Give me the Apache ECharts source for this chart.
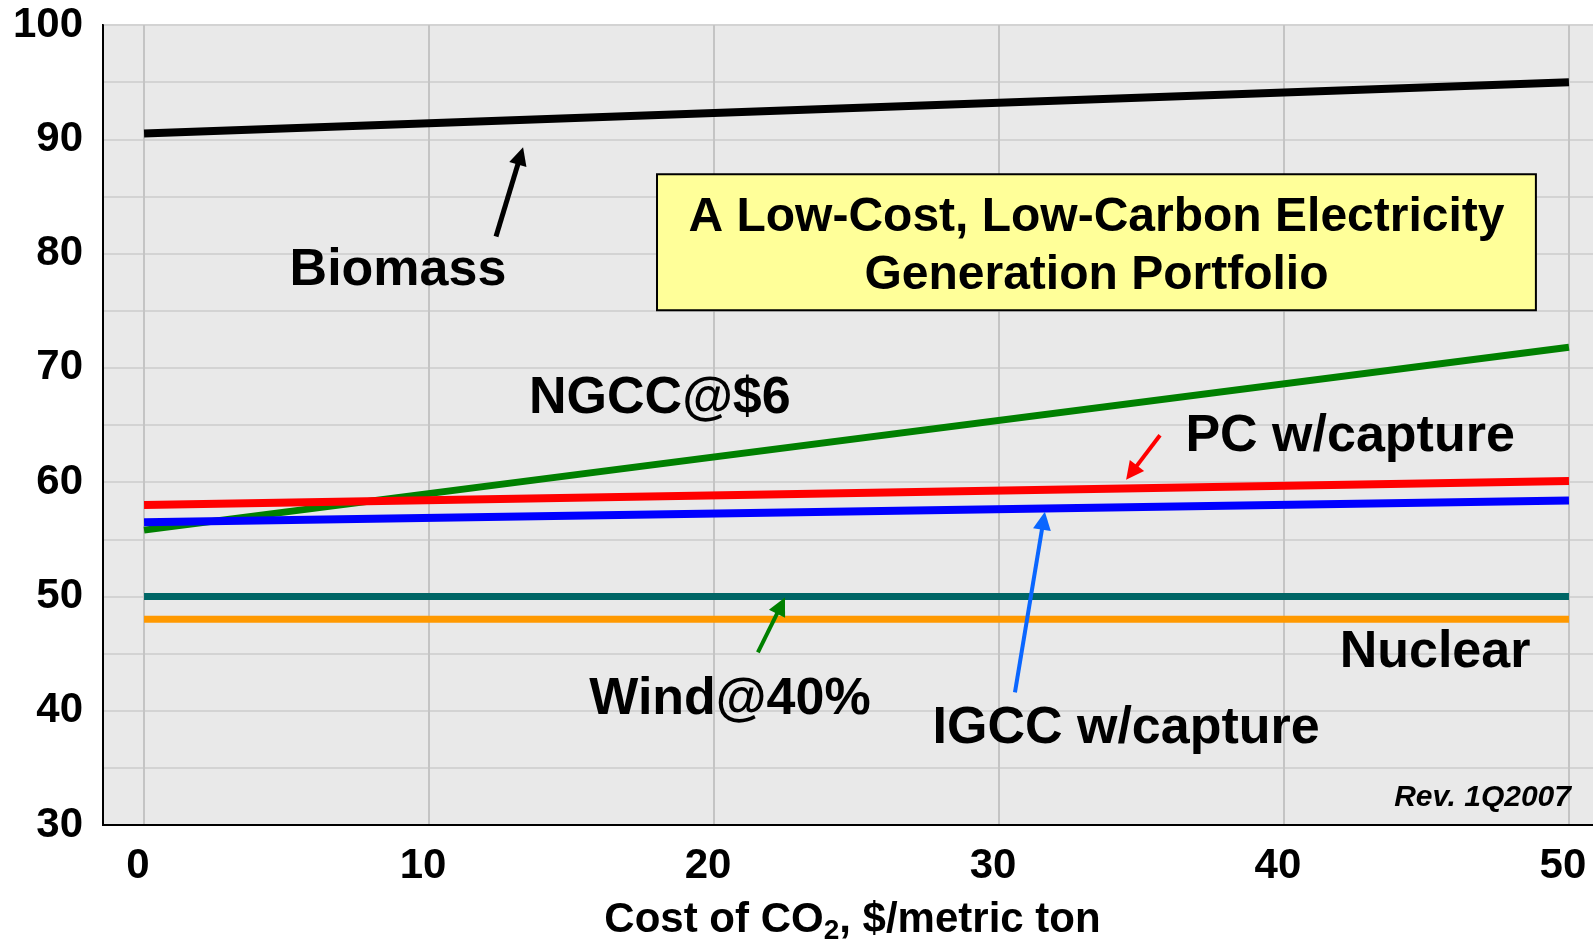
<!DOCTYPE html>
<html>
<head>
<meta charset="utf-8">
<title>A Low-Cost, Low-Carbon Electricity Generation Portfolio</title>
<script src="https://cdn.jsdelivr.net/npm/echarts@6/dist/echarts.min.js"></script>
<style>
  html, body { margin: 0; padding: 0; background: #ffffff; }
  #chart { width: 1593px; height: 942px; }
</style>
</head>
<body>
<div id="chart"></div>
<script>
// Cost of CO2 ($/metric ton) at the two ends of each line
const costs = [0, 50];

// Generation cost for each technology at those CO2 prices
const biomass = [90.5, 95.0];
const ngcc = [55.8, 71.8];
const pcCapture = [58.0, 60.1];
const igccCapture = [56.5, 58.4];
const wind = [50.0, 50.0];
const nuclear = [48.0, 48.0];

// Axis ticks
const xTicks = [0, 10, 20, 30, 40, 50];
const yTicks = [30, 40, 50, 60, 70, 80, 90, 100];

const FONT = 'Arial, "Liberation Sans", Helvetica, sans-serif';

const chart = echarts.init(document.getElementById('chart'), null, { renderer: 'canvas' });

function pairs(vals) {
  return costs.map((c, i) => [c, vals[i]]);
}

function lineSeries(name, vals, color, width) {
  return {
    name: name,
    type: 'line',
    data: pairs(vals),
    symbol: 'none',
    silent: true,
    z: 3,
    lineStyle: { color: color, width: width, cap: 'butt' }
  };
}

chart.setOption({
  animation: false,
  backgroundColor: '#ffffff',
  grid: {
    left: 103, top: 25, width: 1507, bottom: 117,
    outerBoundsMode: 'none',
    containLabel: false,
    show: true,
    backgroundColor: '#e9e9e9',
    borderColor: '#000000',
    borderWidth: 2
  },
  xAxis: {
    type: 'value',
    min: -1.44,
    max: 51.44,
    axisLine: { show: true, onZero: false, lineStyle: { color: '#000', width: 2 } },
    axisTick: { show: false, customValues: xTicks },
    axisLabel: {
      customValues: xTicks,
      margin: 20,
      padding: [0, 12, 0, 0],
      color: '#000',
      fontFamily: FONT,
      fontWeight: 'bold',
      fontSize: 42
    },
    splitLine: { show: true, lineStyle: { color: '#c4c4c4', width: 2 } },
    name: 'Cost of CO{sub|2}, $/metric ton',
    nameLocation: 'middle',
    nameGap: 70,
    nameTextStyle: {
      color: '#000',
      fontFamily: FONT,
      fontWeight: 'bold',
      fontSize: 42,
      lineHeight: 50,
      padding: [0, 8, 0, 0],
      rich: {
        sub: {
          color: '#000',
          fontFamily: FONT,
          fontWeight: 'bold',
          fontSize: 28,
          lineHeight: 28,
          verticalAlign: 'bottom'
        }
      }
    }
  },
  yAxis: {
    type: 'value',
    min: 30,
    max: 100,
    interval: 5,
    axisLine: { show: true, onZero: false, lineStyle: { color: '#000', width: 2 } },
    axisTick: { show: false },
    axisLabel: {
      margin: 20,
      color: '#000',
      fontFamily: FONT,
      fontWeight: 'bold',
      fontSize: 42,
      formatter: v => (yTicks.indexOf(v) >= 0 ? String(v) : '')
    },
    splitLine: { show: true, lineStyle: { color: '#d3d3d3', width: 2 } }
  },
  series: [
    lineSeries('Biomass', biomass, '#000000', 8),
    lineSeries('NGCC@$6', ngcc, '#008000', 7),
    lineSeries('PC w/capture', pcCapture, '#ff0000', 8),
    lineSeries('IGCC w/capture', igccCapture, '#0000ff', 8),
    lineSeries('Wind@40%', wind, '#006666', 7),
    lineSeries('Nuclear', nuclear, '#ff9900', 7)
  ]
});

// Annotations placed in data coordinates (cost, $/MWh)
const labels = [
  { text: 'Biomass', at: [8.91, 78.5] },
  { text: 'NGCC@$6', at: [18.1, 67.3] },
  { text: 'PC w/capture', at: [42.32, 64.0] },
  { text: 'Wind@40%', at: [20.56, 40.95] },
  { text: 'IGCC w/capture', at: [34.46, 38.4] },
  { text: 'Nuclear', at: [45.3, 45.1] }
];

const arrows = [
  { from: [12.35, 81.5], to: [13.3, 89.3], color: '#000000', width: 5 },
  { from: [35.65, 64.1], to: [34.46, 60.2], color: '#ff0000', width: 4 },
  { from: [21.54, 45.1], to: [22.49, 49.9], color: '#008000', width: 4 },
  { from: [30.56, 41.6], to: [31.61, 57.4], color: '#0a66ff', width: 4 }
];

const titleBox = { topLeft: [18.0, 86.94], bottomRight: [48.84, 75.04] };
const titleLines = ['A Low-Cost, Low-Carbon Electricity', 'Generation Portfolio'];
const revision = { text: 'Rev. 1Q2007', at: [50.07, 32.4] };

function px(p) {
  return chart.convertToPixel({ gridIndex: 0 }, p);
}

function arrowElements(a) {
  const t = px(a.from);
  const h = px(a.to);
  const dx = h[0] - t[0], dy = h[1] - t[1];
  const len = Math.sqrt(dx * dx + dy * dy);
  const ux = dx / len, uy = dy / len;
  const headLen = 18, headHalf = 9;
  const bx = h[0] - ux * headLen, by = h[1] - uy * headLen;
  return [
    {
      type: 'line', silent: true, z: 10,
      shape: { x1: t[0], y1: t[1], x2: bx + ux * 2, y2: by + uy * 2 },
      style: { stroke: a.color, lineWidth: a.width, lineCap: 'butt' }
    },
    {
      type: 'polygon', silent: true, z: 10,
      shape: { points: [h, [bx - uy * headHalf, by + ux * headHalf], [bx + uy * headHalf, by - ux * headHalf]] },
      style: { fill: a.color }
    }
  ];
}

const graphics = [];

labels.forEach(l => {
  const p = px(l.at);
  graphics.push({
    type: 'text', silent: true, z: 10,
    x: p[0], y: p[1],
    style: {
      text: l.text, fill: '#000',
      font: 'bold 52px ' + FONT,
      align: 'center', verticalAlign: 'middle'
    }
  });
});

arrows.forEach(a => { arrowElements(a).forEach(e => graphics.push(e)); });

const tl = px(titleBox.topLeft);
const br = px(titleBox.bottomRight);
graphics.push({
  type: 'rect', silent: true, z: 10,
  shape: { x: tl[0], y: tl[1], width: br[0] - tl[0], height: br[1] - tl[1] },
  style: { fill: '#ffff99', stroke: '#000', lineWidth: 2 }
});
const boxCx = (tl[0] + br[0]) / 2;
const boxCy = (tl[1] + br[1]) / 2;
titleLines.forEach((line, i) => {
  graphics.push({
    type: 'text', silent: true, z: 11,
    x: boxCx, y: boxCy + (i - 0.5) * 58 + 5,
    style: {
      text: line, fill: '#000',
      font: 'bold 48px ' + FONT,
      align: 'center', verticalAlign: 'middle'
    }
  });
});

const rv = px(revision.at);
graphics.push({
  type: 'text', silent: true, z: 10,
  x: rv[0], y: rv[1],
  style: {
    text: revision.text, fill: '#000',
    font: 'italic bold 30px ' + FONT,
    align: 'right', verticalAlign: 'middle'
  }
});

chart.setOption({ graphic: graphics });
</script>
</body>
</html>
